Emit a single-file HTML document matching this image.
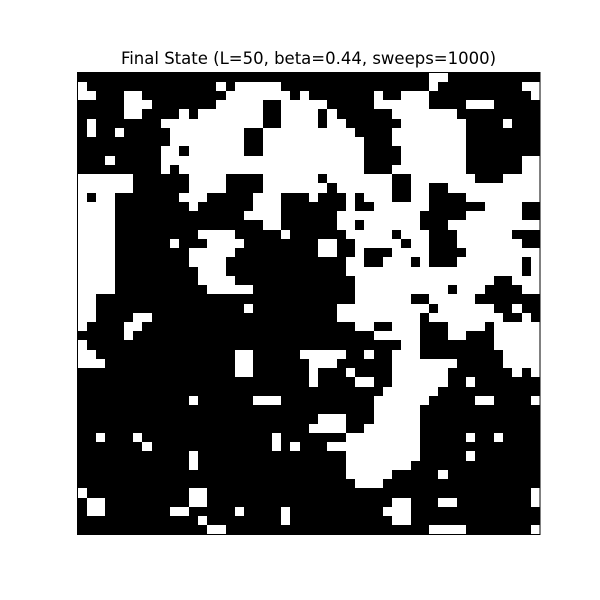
<!DOCTYPE html>
<html><head><meta charset="utf-8"><style>
html,body{margin:0;padding:0;background:#fff;}
svg{display:block;}
</style></head><body>
<svg id="chart" width="600" height="600" viewBox="0 0 600 600" xmlns="http://www.w3.org/2000/svg">
<rect x="0" y="0" width="600" height="600" fill="#fff"/>
<text x="308.5" y="64" text-anchor="middle" font-family="DejaVu Sans, Liberation Sans, sans-serif" font-size="16.5" fill="#000">Final State (L=50, beta=0.44, sweeps=1000)</text>
<g id="cells" shape-rendering="crispEdges"></g>
<rect x="77.5" y="72.5" width="462.5" height="462" fill="none" stroke="#000" stroke-width="1"/>
</svg>
<script>
const topLeft = [
"#########################",".##############.#.....###","..###..#########.......#.","#####...#######.....##...","#####..####.#.......##...",
"#.#######...........##...","#.##.#####........##.....","##########........##.....","#########..#......##.....","###.#####................",
"#########.#..............","......######....####.....","......######....####.....",".#..#######...#####...###","....########.######...###",
"....##############....###","....################..###","....#########....#####.##","....######.###....#######","....########.....########",
"....########....#########","....#########...#########","....#########....########","....##########.....######","..#######################"];
const topRight = [
"#############..##########","#############.#########..","#######.##...###########.","..#####......####...#####",".#.######.......#########",
".#..######.......####.###",".....####........########","......###........########","......####.......########","......####.......######..",
"......###........######..",".#.......##.......###....","..#......##..##..........",".###.#...##..####........","####.##......######....##",
"###.........#####......##","###..#......###..........","####.....#...###......###","#..##.....#..###.......##","#..##.###....####........",
"####..##...#.###.......#.","####...................#.","#####...............##...","#####..........#...####..","#####......##.....#######"];
const bottomLeft = [
"..################.######","..####..#################",".####..##################","#####.###################",".########################",
"..###############..#####.","...##############..######","#################..######","#########################","#########################",
"############.######...###","#########################","#########################","#########################","##.###.##############.###",
"#######.#############.#.#","############.############","############.############","#########################","#########################",
".###########..###########","#..#########..###########","#..#######..#####.####.##","#############.########.##","##############..#########"];
const bottomRight = [
"###..........#......##.##","###.........#........##.#","#####..##...###....#.....","#######.....###..###.....","##########..########.....",
"....##.##...#########....","...######.......#####....",".###.####......#######.#.",".####..##......##.#######","########......###########",
"#######......#####..####.","#######.....#############","#...###.....#############","....##......#############","####........#####.##.####",
"##..........#############","####........#####.#######","####.......##############","####.....#####.##########","#####...#################",
"########################.","#########..###..########.","########...##############","#########..##############","#############....#######."];

const N = 50, x0 = 77.5, y0 = 72.5, W = 462.5, H = 462;
const cw = W / N, ch = H / N;
function fix(s){ s = s.slice(0,25); while (s.length < 25) s += '#'; return s; }
const rows = [];
for (let r = 0; r < 25; r++) rows.push(fix(topLeft[r]) + fix(topRight[r]));
for (let r = 0; r < 25; r++) rows.push(fix(bottomLeft[r]) + fix(bottomRight[r]));
const g = document.getElementById('cells');
const NS = 'http://www.w3.org/2000/svg';
for (let r = 0; r < N; r++) {
  for (let c = 0; c < N; c++) {
    const el = document.createElementNS(NS, 'rect');
    const xs = Math.round(x0 + c * cw), xe = Math.round(x0 + (c + 1) * cw);
    const ys = Math.round(y0 + r * ch), ye = Math.round(y0 + (r + 1) * ch);
    el.setAttribute('x', xs);
    el.setAttribute('y', ys);
    el.setAttribute('width', xe - xs);
    el.setAttribute('height', ye - ys);
    el.setAttribute('fill', rows[r][c] === '#' ? '#000' : '#fff');
    
    
    g.appendChild(el);
  }
}
</script>
</body></html>
